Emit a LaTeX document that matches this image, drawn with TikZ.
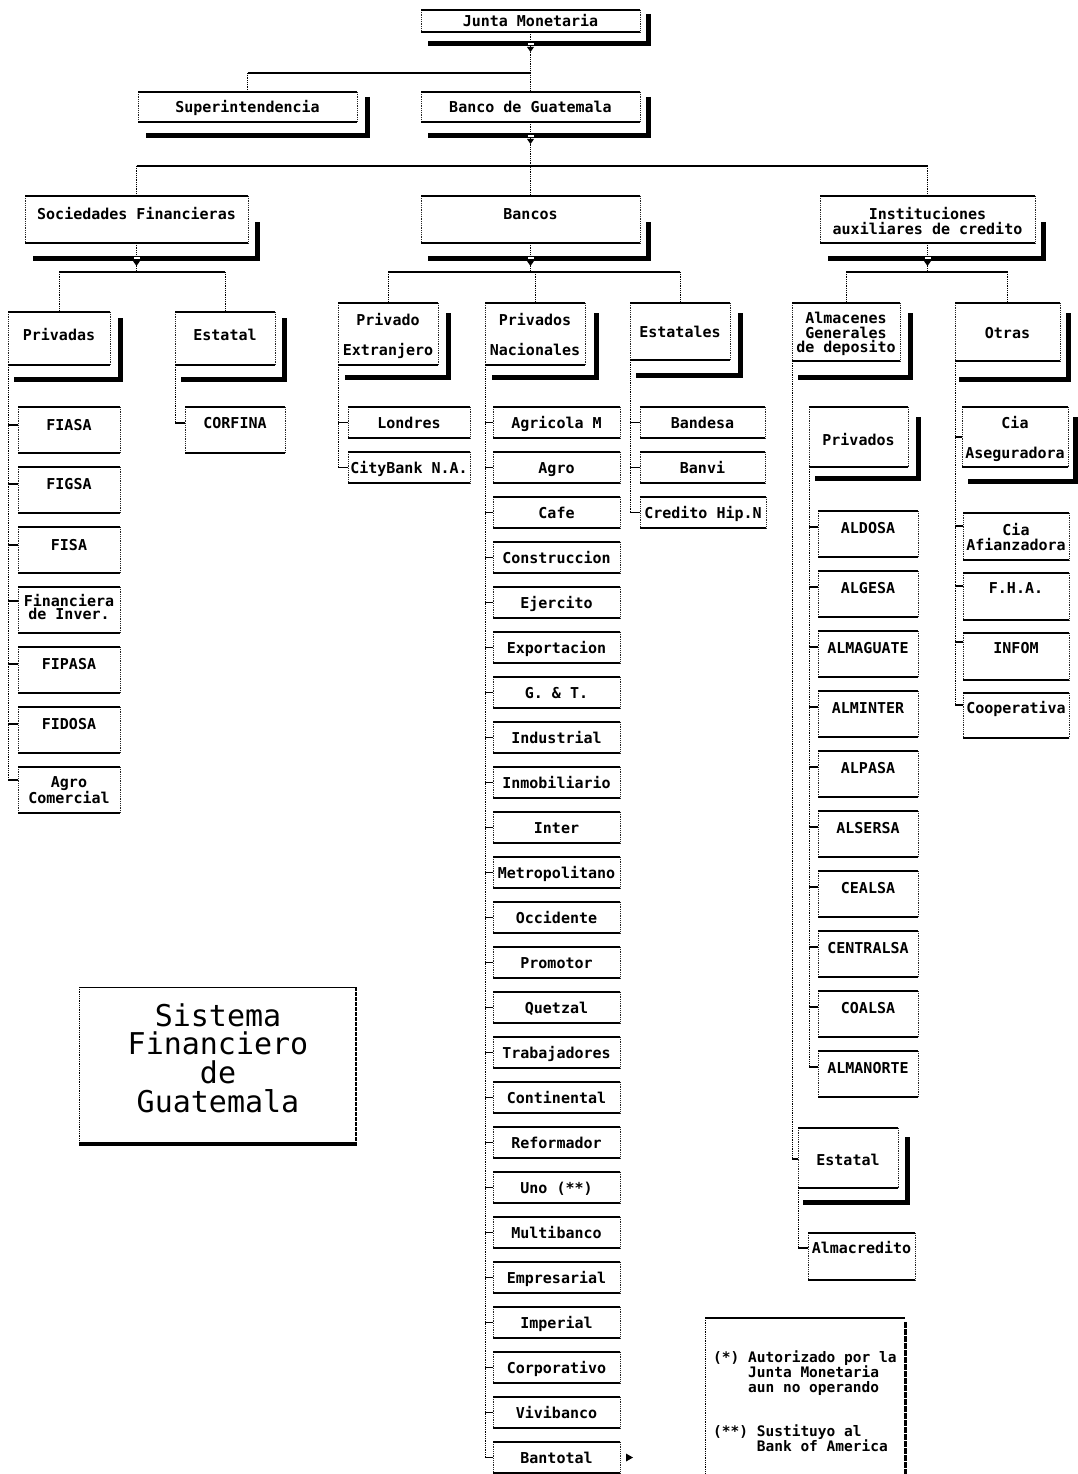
\documentclass[tikz,border=0pt]{standalone}
\usepackage{fontspec}
\setmainfont{DejaVu Sans Mono}
\usetikzlibrary{calc}
\tikzset{
  bx/.style={inner sep=0pt, outer sep=0pt, draw=none, anchor=north west},
  bxside/.style={line width=0.8pt, densely dotted, black!85},
  bxtop/.style={line width=1.3pt, black},
  lbl/.style={inner sep=0pt, font=\bfseries\fontsize{15}{15}\selectfont, text height=0.73em, text depth=0pt, anchor=center, yshift=-1.5pt},
  lblm/.style={inner sep=0pt, align=center, anchor=center},
  shd/.style={line width=5pt, black, line join=miter},
  vl/.style={line width=0.8pt, densely dotted, black},
  hl/.style={line width=1.1pt, black},
  tk/.style={line width=1.2pt, black},
}
\newcommand\bxn[5]{%
  \node[bx, minimum width={(#4)*1pt-(#2)*1pt}, minimum height={(#5)*1pt-(#3)*1pt}] (#1) at (#2,#3) {};
  \draw[bxside] (#1.north west) -- (#1.south west) (#1.north east) -- (#1.south east);
  \draw[bxtop] (#1.north west) -- (#1.north east) (#1.south west) -- (#1.south east);
}
\newcommand\leaf[7]{\bxn{#1}{#2}{#3}{#4}{#5}\node[lbl] (#1-t) at ({(#2+#4)/2},#6) {#7};}
\newcommand\leafm[8]{\bxn{#1}{#2}{#3}{#4}{#5}\node[lblm, font=\bfseries\fontsize{15}{#8}\selectfont] (#1-t) at ({(#2+#4)/2},#6) {#7};}
\newcommand\shad[4]{\draw[shd] (#1,#2) |- (#4,#3);}
\newcommand\jmark[2]{\fill[white] (#1-3,#2-1.2) rectangle (#1+3,#2+1.2); \fill (#1-3.5,#2+3) -- (#1+3.5,#2+3) -- (#1,#2+8) -- cycle;}
\begin{document}
\begin{tikzpicture}[x=1pt,y=-1pt]
\path[use as bounding box] (0,0) rectangle (1078,1474);
\fill[white] (0,0) rectangle (1078,1474);
\clip (0,0) rectangle (1078,1474);

% ---------- top levels ----------
\leaf{jm}{421}{10}{640}{32}{21}{Junta Monetaria}
\leaf{sup}{138}{92}{357}{122}{107}{Superintendencia}
\leaf{bg}{421}{92}{640}{122}{107}{Banco de Guatemala}
\leaf{sf}{25}{196}{248}{243}{214}{Sociedades Financieras}
\leaf{bc}{421}{196}{640}{243}{214}{Bancos}
\leafm{ia}{820}{196}{1035}{243}{221}{Instituciones\\auxiliares de credito}{15}

% ---------- level 3 ----------
\leaf{pv}{8}{312}{110}{365}{335}{Privadas}
\leaf{es}{175}{312}{275}{365}{335}{Estatal}
\leafm{pe}{338}{303}{438}{365}{336}{Privado\\Extranjero}{30}
\leafm{pn}{485}{303}{585}{365}{335}{Privados\\Nacionales}{30}
\leaf{et}{630}{303}{730}{360}{332}{Estatales}
\leafm{al}{792}{303}{900}{361}{334}{Almacenes\\Generales\\de deposito}{14.5}
\leaf{ot}{955}{303}{1060}{361}{333}{Otras}

% ---------- Sociedades: privadas ----------
\leaf{fiasa}{18}{407}{120}{453}{425}{FIASA}
\leaf{figsa}{18}{467}{120}{513}{484}{FIGSA}
\leaf{fisa}{18}{527}{120}{573}{545}{FISA}
\leafm{finv}{18}{587}{120}{633}{607}{Financiera\\de Inver.}{13.5}
\leaf{fipasa}{18}{647}{120}{693}{664}{FIPASA}
\leaf{fidosa}{18}{707}{120}{753}{724}{FIDOSA}
\leafm{agroc}{18}{767}{120}{813}{790}{Agro\\Comercial}{12.5}
\foreach \n/\d in {fiasa/18,figsa/17,fisa/18,finv/14,fipasa/17,fidosa/17,agroc/13}{
  \draw[tk] ($(\n.north west)+(0,\d)$) coordinate (\n-k) -- (pv.south west |- \n-k);
}
\draw[vl] (pv.south west) -- (pv.south west |- agroc-k);

% ---------- Sociedades: estatal ----------
\leaf{corfina}{185}{407}{285}{453}{423}{CORFINA}
\coordinate (corfina-k) at ($(corfina.north west)+(0,16)$);
\draw[vl] (es.south west) -- (es.south west |- corfina-k);
\draw[tk] (es.south west |- corfina-k) -- (corfina-k);

% ---------- Bancos: privado extranjero ----------
\leaf{lon}{348}{407}{470}{438}{423}{Londres}
\leaf{city}{348}{452}{470}{483}{468}{CityBank N.A.}
\draw[vl] (pe.south west) -- (pe.south west |- city.west);
\draw[tk] (lon.west) -- (pe.south west |- lon.west);
\draw[tk] (city.west) -- (pe.south west |- city.west);

% ---------- Bancos: privados nacionales ----------
\foreach \t [count=\i from 0] in {Agricola M,Agro,Cafe,Construccion,Ejercito,Exportacion,{G. \& T.},Industrial,Inmobiliario,Inter,Metropolitano,Occidente,Promotor,Quetzal,Trabajadores,Continental,Reformador,{Uno (**)},Multibanco,Empresarial,Imperial,Corporativo,Vivibanco,Bantotal}{
  \pgfmathsetmacro\ya{407+45*\i}
  \pgfmathsetmacro\yb{\ya+31}
  \pgfmathsetmacro\yt{\ya+16}
  \leaf{pn\i}{493}{\ya}{620}{\yb}{\yt}{\t}
  \draw[tk] (pn\i.west) -- (pn.south west |- pn\i.west);
}
\draw[vl] (pn.south west) -- (pn.south west |- pn23.west);
\fill ($(pn23.east)+(6,-4)$) -- ($(pn23.east)+(13,0)$) -- ($(pn23.east)+(6,4)$) -- cycle;

% ---------- Bancos: estatales ----------
\leaf{band}{640}{407}{765}{438}{423}{Bandesa}
\leaf{banvi}{640}{452}{765}{483}{468}{Banvi}
\leaf{chip}{640}{497}{766}{528}{513}{Credito Hip.N}
\foreach \n in {band,banvi,chip}{\draw[tk] (\n.west) -- (et.south west |- \n.west);}
\draw[vl] (et.south west) -- (et.south west |- chip.west);

% ---------- Almacenes ----------
\leaf{ap}{809}{407}{908}{467}{440}{Privados}
\foreach \t [count=\i from 0] in {ALDOSA,ALGESA,ALMAGUATE,ALMINTER,ALPASA,ALSERSA,CEALSA,CENTRALSA,COALSA,ALMANORTE}{
  \pgfmathsetmacro\ya{511+60*\i}
  \pgfmathsetmacro\yb{\ya+46}
  \pgfmathsetmacro\yt{\ya+17}
  \leaf{apc\i}{818}{\ya}{918}{\yb}{\yt}{\t}
  \draw[tk] ($(apc\i.north west)+(0,16)$) coordinate (apc\i-k) -- (ap.south west |- apc\i-k);
}
\draw[vl] (ap.south west) -- (ap.south west |- apc9-k);

\leaf{ae}{798}{1128}{898}{1188}{1160}{Estatal}
\coordinate (ae-k) at ($(ae.north west)+(0,31)$);
\draw[vl] (al.south west) -- (al.south west |- ae-k);
\draw[tk] (al.south west |- ae-k) -- (ae-k);
\leaf{almc}{808}{1233}{915}{1280}{1248}{Almacredito}
\coordinate (almc-k) at ($(almc.north west)+(0,15)$);
\draw[vl] (ae.south west) -- (ae.south west |- almc-k);
\draw[tk] (ae.south west |- almc-k) -- (almc-k);

% ---------- Otras ----------
\leafm{ca}{962}{407}{1068}{467}{439}{Cia\\Aseguradora}{30}
\leafm{caf}{963}{513}{1069}{560}{537}{Cia\\Afianzadora}{15}
\leaf{fha}{963}{573}{1069}{620}{588}{F.H.A.}
\leaf{infom}{963}{633}{1069}{680}{648}{INFOM}
\leaf{coop}{963}{693}{1069}{738}{708}{Cooperativa}
\foreach \n/\d in {ca/30,caf/13,fha/13,infom/9,coop/12}{
  \draw[tk] ($(\n.north west)+(0,\d)$) coordinate (\n-k) -- (ot.south west |- \n-k);
}
\draw[vl] (ot.south west) -- (ot.south west |- coop-k);

% ---------- tree connectors ----------
\coordinate (y73) at (0,73);
\coordinate (y166) at (0,166);
\coordinate (y272) at (0,272);
\draw[vl] (jm.south) -- (bg.north);
\draw[hl] (jm.south |- y73) -- (sup.north |- y73);
\draw[vl] (sup.north |- y73) -- (sup.north);

\draw[vl] (bg.south) -- (bc.north);
\draw[hl] (sf.north |- y166) -- (ia.north |- y166);
\draw[vl] (sf.north |- y166) -- (sf.north);
\draw[vl] (ia.north |- y166) -- (ia.north);

\draw[vl] (sf.south) -- (sf.south |- y272);
\draw[hl] (pv.north |- y272) -- (es.north |- y272);
\draw[vl] (pv.north |- y272) -- (pv.north);
\draw[vl] (es.north |- y272) -- (es.north);

\draw[vl] (bc.south) -- (bc.south |- y272);
\draw[hl] (pe.north |- y272) -- (et.north |- y272);
\draw[vl] (pe.north |- y272) -- (pe.north);
\draw[vl] (pn.north |- y272) -- (pn.north);
\draw[vl] (et.north |- y272) -- (et.north);

\draw[vl] (ia.south) -- (ia.south |- y272);
\draw[hl] (al.north |- y272) -- (ot.north |- y272);
\draw[vl] (al.north |- y272) -- (al.north);
\draw[vl] (ot.north |- y272) -- (ot.north);

% ---------- shadows ----------
\shad{648}{14}{44}{428}
\shad{367}{97}{136}{146}
\shad{648}{97}{136}{428}
\shad{257}{222}{258}{33}
\shad{648}{222}{258}{428}
\shad{1043}{222}{258}{828}
\shad{120}{318}{379}{14}
\shad{284}{318}{379}{181}
\shad{448}{313}{377}{345}
\shad{596}{313}{377}{492}
\shad{740}{313}{375}{636}
\shad{910}{313}{377}{798}
\shad{1068}{313}{379}{959}
\shad{918}{417}{478}{815}
\shad{1075}{417}{481}{968}
\shad{907}{1137}{1202}{803}
\jmark{530.5}{44}
\jmark{530.5}{136}
\jmark{136.5}{258}
\jmark{530.5}{258}
\jmark{927.5}{258}

% ---------- title ----------
\node[bx, minimum width=277pt, minimum height=157pt] (tbox) at (79,987) {};
\draw[hl, line width=1pt] (tbox.north west) -- (tbox.north east);
\draw[vl] (tbox.north west) -- (tbox.south west);
\draw[line width=2.5pt, dash pattern=on 4pt off 1pt] (tbox.north east) -- (tbox.south east);
\draw[line width=4pt] (tbox.south west) -- ([xshift=1.25pt]tbox.south east);
\node[inner sep=0pt, align=center, font=\fontsize{30}{28.7}\selectfont] (ttl) at (218,1058) {Sistema\\Financiero\\de\\Guatemala};

% ---------- legend ----------
\node[bx, minimum width=200pt, minimum height=170pt] (lg) at (705,1318) {};
\draw[hl] (lg.north west) -- (lg.north east);
\draw[vl] (lg.north west) -- (lg.south west);
\draw[line width=3pt, dash pattern=on 6pt off 1pt] ([yshift=-4pt]lg.north east) -- (lg.south east);
\node[inner sep=0pt, anchor=north west, align=left, font=\bfseries\fontsize{14.5}{15}\selectfont] (lgt) at (713,1350)
 {(*) Autorizado por la\\\phantom{(*) }Junta Monetaria\\\phantom{(*) }aun no operando\\[29pt](**) Sustituyo al\\\phantom{(**) }Bank of America};
\end{tikzpicture}
\end{document}
